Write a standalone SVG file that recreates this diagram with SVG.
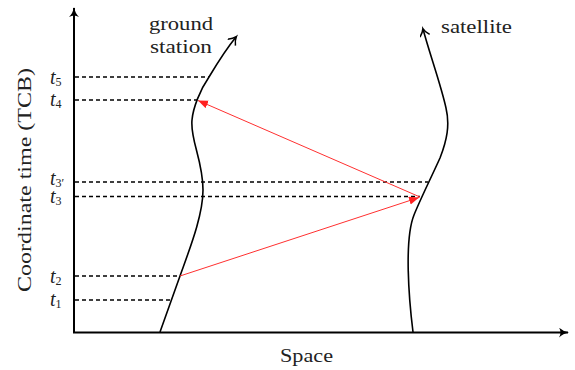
<svg xmlns="http://www.w3.org/2000/svg" width="575" height="370" viewBox="0 0 575 370">
<style>
.ax{fill:none;stroke:#000;stroke-width:2}
.dash{fill:none;stroke:#000;stroke-width:1.3;stroke-dasharray:4 3}
.wl{fill:none;stroke:#000;stroke-width:1.6}
.sig{fill:none;stroke:#ff3030;stroke-width:1}
.lbl{font-size:19px;fill:#222}
.t{font-style:italic;font-size:20px;fill:#222}
.sub{font-size:12px;fill:#222;font-style:normal}
</style>
<defs>
<marker id="axh" markerWidth="12" markerHeight="12" refX="9" refY="5" orient="auto" markerUnits="userSpaceOnUse">
<path d="M0,0 Q4,4 10,5 Q4,6 0,10 Q3,5 0,0 Z" fill="#000"/>
</marker>
<marker id="open" markerWidth="14" markerHeight="14" refX="8" refY="5" orient="auto" markerUnits="userSpaceOnUse">
<path d="M1,0 Q5,4 8.5,5 Q5,6 1,10" fill="none" stroke="#000" stroke-width="1.5"/>
</marker>
<marker id="red" markerWidth="12" markerHeight="10" refX="10" refY="4" orient="auto" markerUnits="userSpaceOnUse">
<path d="M0,0 L10,4 L0,8 Z" fill="#ff2020"/>
</marker>
</defs>
<g id="axes">
<path class="ax" d="M74,333 L74,8" marker-end="url(#axh)"/>
<path class="ax" d="M73,332.5 L568,332.5" marker-end="url(#axh)"/>
</g>
<g id="time-lines">
<path class="dash" d="M75,77 H209"/>
<path class="dash" d="M75,100 H197"/>
<path class="dash" d="M75,182 H428"/>
<path class="dash" d="M75,196.5 H420"/>
<path class="dash" d="M75,276 H180"/>
<path class="dash" d="M75,300 H171"/>
</g>
<g id="ground-station" font-family="Liberation Serif, DejaVu Serif, serif">
<path class="wl" d="M160,332 L180,276 C190,248 203,215 203,190 C203,160 190,140 192,120 C193,108 200,90 209,77 C218,62 227,48 236,37" marker-end="url(#open)"/>
<text class="lbl" x="149" y="30" textLength="64" lengthAdjust="spacingAndGlyphs">ground</text>
<text class="lbl" x="150" y="53" textLength="62" lengthAdjust="spacingAndGlyphs">station</text>
</g>
<g id="satellite" font-family="Liberation Serif, DejaVu Serif, serif">
<path class="wl" d="M413,332 C409,300 404,240 414,215 C420,200 430,180 440,158 C447,140 450,125 446,108 C441,85 430,55 423,29" marker-end="url(#open)"/>
<text class="lbl" x="441" y="33" textLength="71" lengthAdjust="spacingAndGlyphs">satellite</text>
</g>
<g id="connectors">
<path class="sig" d="M180,276 L419,197.5" marker-end="url(#red)"/>
<path class="sig" d="M420,197 L198,100.5" marker-end="url(#red)"/>
</g>
<g id="labels" font-family="Liberation Serif, DejaVu Serif, serif">
<text class="t" x="50" y="84">t<tspan class="sub" dy="2">5</tspan></text>
<text class="t" x="50" y="106">t<tspan class="sub" dy="2">4</tspan></text>
<text class="t" x="50" y="185">t<tspan class="sub" dy="2">3′</tspan></text>
<text class="t" x="50" y="203">t<tspan class="sub" dy="2">3</tspan></text>
<text class="t" x="50" y="283">t<tspan class="sub" dy="2">2</tspan></text>
<text class="t" x="50" y="306">t<tspan class="sub" dy="2">1</tspan></text>
<text class="lbl" x="280" y="362" textLength="53" lengthAdjust="spacingAndGlyphs">Space</text>
<text class="lbl" transform="translate(31,180) rotate(-90)" text-anchor="middle" textLength="224" lengthAdjust="spacingAndGlyphs">Coordinate time (TCB)</text>
</g>
</svg>
